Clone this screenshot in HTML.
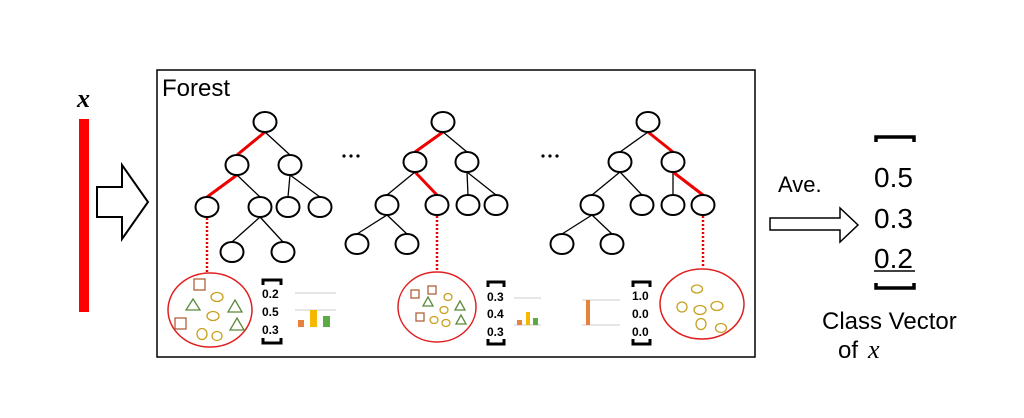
<!DOCTYPE html>
<html><head><meta charset="utf-8"><style>
html,body{margin:0;padding:0;background:#fff;}
svg{display:block;}
text{font-family:"Liberation Sans",sans-serif;}
</style></head><body>
<svg width="1024" height="418" viewBox="0 0 1024 418" xmlns="http://www.w3.org/2000/svg">
<text x="77" y="107" font-family="Liberation Serif" font-style="italic" font-weight="bold" font-size="26" style="font-family:'Liberation Serif',serif">x</text>
<rect x="79" y="119" width="10" height="193" fill="#ff0000"/>
<polygon points="97,187 122,187 122,165 148,202 122,239 122,217 97,217" fill="#fff" stroke="#000" stroke-width="2"/>
<rect x="157" y="70" width="598" height="287" fill="none" stroke="#000" stroke-width="1.5"/>
<text x="162" y="96" font-size="24">Forest</text>
<g stroke="#000" stroke-width="1.3">
<line x1="265" y1="132" x2="237" y2="155" stroke="#e00" stroke-width="3"/>
<line x1="265" y1="132" x2="290" y2="155"/>
<line x1="237" y1="175" x2="207" y2="197" stroke="#e00" stroke-width="3"/>
<line x1="237" y1="175" x2="260" y2="197"/>
<line x1="290" y1="175" x2="288" y2="197"/>
<line x1="290" y1="175" x2="320" y2="197"/>
<line x1="260" y1="217" x2="232" y2="242"/>
<line x1="260" y1="217" x2="283" y2="242"/>
<line x1="443" y1="132" x2="415" y2="152" stroke="#e00" stroke-width="3"/>
<line x1="443" y1="132" x2="467" y2="152"/>
<line x1="415" y1="172" x2="437" y2="195" stroke="#e00" stroke-width="3"/>
<line x1="415" y1="172" x2="387" y2="195"/>
<line x1="467" y1="172" x2="468" y2="195"/>
<line x1="467" y1="172" x2="496" y2="195"/>
<line x1="387" y1="215" x2="357" y2="234"/>
<line x1="387" y1="215" x2="407" y2="234"/>
<line x1="648" y1="132" x2="620" y2="152"/>
<line x1="648" y1="132" x2="673" y2="152" stroke="#e00" stroke-width="3"/>
<line x1="620" y1="172" x2="592" y2="195"/>
<line x1="620" y1="172" x2="642" y2="195"/>
<line x1="673" y1="172" x2="673" y2="195"/>
<line x1="673" y1="172" x2="703" y2="195" stroke="#e00" stroke-width="3"/>
<line x1="592" y1="215" x2="562" y2="234"/>
<line x1="592" y1="215" x2="612" y2="234"/>
</g>
<g fill="#fff" stroke="#000" stroke-width="2">
<ellipse cx="265" cy="122" rx="11.5" ry="10"/>
<ellipse cx="237" cy="165" rx="11.5" ry="10"/><ellipse cx="290" cy="165" rx="11.5" ry="10"/>
<ellipse cx="207" cy="207" rx="11.5" ry="10"/><ellipse cx="260" cy="207" rx="11.5" ry="10"/><ellipse cx="288" cy="207" rx="11.5" ry="10"/><ellipse cx="320" cy="207" rx="11.5" ry="10"/>
<ellipse cx="232" cy="252" rx="11.5" ry="10"/><ellipse cx="283" cy="252" rx="11.5" ry="10"/>
<ellipse cx="443" cy="122" rx="11.5" ry="10"/>
<ellipse cx="415" cy="162" rx="11.5" ry="10"/><ellipse cx="467" cy="162" rx="11.5" ry="10"/>
<ellipse cx="387" cy="205" rx="11.5" ry="10"/><ellipse cx="437" cy="205" rx="11.5" ry="10"/><ellipse cx="468" cy="205" rx="11.5" ry="10"/><ellipse cx="496" cy="205" rx="11.5" ry="10"/>
<ellipse cx="357" cy="244" rx="11.5" ry="10"/><ellipse cx="407" cy="244" rx="11.5" ry="10"/>
<ellipse cx="648" cy="122" rx="11.5" ry="10"/>
<ellipse cx="620" cy="162" rx="11.5" ry="10"/><ellipse cx="673" cy="162" rx="11.5" ry="10"/>
<ellipse cx="592" cy="205" rx="11.5" ry="10"/><ellipse cx="642" cy="205" rx="11.5" ry="10"/><ellipse cx="673" cy="205" rx="11.5" ry="10"/><ellipse cx="703" cy="205" rx="11.5" ry="10"/>
<ellipse cx="562" cy="244" rx="11.5" ry="10"/><ellipse cx="612" cy="244" rx="11.5" ry="10"/>
</g>
<g fill="#000"><circle cx="344" cy="156" r="1.6"/><circle cx="351" cy="156" r="1.6"/><circle cx="358" cy="156" r="1.6"/>
<circle cx="543" cy="156" r="1.6"/><circle cx="550" cy="156" r="1.6"/><circle cx="557" cy="156" r="1.6"/></g>
<g stroke="#e00" stroke-width="2.5" stroke-dasharray="2,2">
<line x1="207" y1="218" x2="207" y2="272"/>
<line x1="437" y1="216" x2="437" y2="272"/>
<line x1="703" y1="216" x2="703" y2="268"/>
</g>
<g fill="none" stroke="#e02020" stroke-width="1.5">
<ellipse cx="210" cy="310" rx="42" ry="37"/>
<ellipse cx="437" cy="307" rx="39" ry="35"/>
<ellipse cx="702" cy="304" rx="42" ry="35"/>
</g>
<g fill="none" stroke-width="1.3">
<g stroke="#b0603a"><rect x="194" y="279" width="11" height="11"/><rect x="175" y="318" width="11" height="11"/>
<rect x="411" y="290" width="8" height="8"/><rect x="428" y="286" width="8" height="8"/><rect x="416" y="313" width="8" height="8"/></g>
<g stroke="#5a8a3a"><polygon points="193,299 200,310 186,310"/><polygon points="235,300 242,312 228,312"/><polygon points="237,318 244,330 230,330"/>
<polygon points="428,297 433,306 423,306"/><polygon points="460,301 465,310 455,310"/><polygon points="461,315 466,324 456,324"/></g>
<g stroke="#c8a020"><ellipse cx="217" cy="297" rx="6" ry="4.5"/><ellipse cx="213" cy="316" rx="6" ry="4.5"/><ellipse cx="202" cy="334" rx="5" ry="5.5"/><ellipse cx="217" cy="336" rx="5" ry="4.5"/>
<ellipse cx="448" cy="297" rx="4" ry="3.5"/><ellipse cx="444" cy="310" rx="4" ry="3.5"/><ellipse cx="434" cy="320" rx="4" ry="3.5"/><ellipse cx="446" cy="323" rx="4" ry="3.5"/>
<ellipse cx="697" cy="289" rx="5.5" ry="4"/><ellipse cx="682" cy="307" rx="5" ry="5"/><ellipse cx="700" cy="310" rx="6" ry="4.5"/><ellipse cx="717" cy="306" rx="6" ry="4.5"/><ellipse cx="701" cy="324" rx="5" ry="5.5"/><ellipse cx="721" cy="328" rx="5.5" ry="4.5"/></g>
</g>
<g font-weight="bold" font-size="12" fill="#000">
<text x="262" y="298">0.2</text><text x="262" y="316">0.5</text><text x="262" y="334">0.3</text>
<text x="487" y="301">0.3</text><text x="487" y="318">0.4</text><text x="487" y="336">0.3</text>
<text x="632" y="300">1.0</text><text x="632" y="318">0.0</text><text x="632" y="336">0.0</text>
</g>
<g stroke="#000" stroke-width="3" fill="none">
<path d="M263,285 V280 H281 V285"/><path d="M263,338 V343 H281 V338"/>
<path d="M488,287 V282 H504 V287"/><path d="M488,339 V344 H504 V339"/>
<path d="M633,287 V282 H650 V287"/><path d="M633,339 V344 H650 V339"/>
</g>
<g stroke="#ccc" stroke-width="1"><line x1="295" y1="293" x2="336" y2="293"/><line x1="295" y1="310" x2="336" y2="310"/>
<line x1="514" y1="298" x2="541" y2="298"/><line x1="514" y1="325" x2="541" y2="325"/>
<line x1="582" y1="300" x2="620" y2="300"/><line x1="582" y1="325" x2="620" y2="325"/></g>
<rect x="298" y="320" width="6" height="7" fill="#e8823a"/><rect x="310" y="310" width="7" height="17" fill="#f5b800"/><rect x="323" y="316" width="7" height="11" fill="#5aaa45"/>
<rect x="517" y="320" width="5" height="5" fill="#e8823a"/><rect x="526" y="312" width="4" height="13" fill="#f5b800"/><rect x="533" y="318" width="5" height="7" fill="#5aaa45"/>
<rect x="586" y="300" width="4" height="25" fill="#e8823a"/>
<text x="778" y="192" font-size="22">Ave.</text>
<polygon points="770,218 840,218 840,208 858,225 840,242 840,230 770,230" fill="#fff" stroke="#000" stroke-width="1.5"/>
<path d="M876,142 V137 H914 V142" stroke="#000" stroke-width="3.5" fill="none"/>
<path d="M876,283 V288 H914 V283" stroke="#000" stroke-width="3.5" fill="none"/>
<g font-size="28" fill="#000"><text x="874" y="187">0.5</text><text x="874" y="228">0.3</text><text x="874" y="268">0.2</text></g>
<line x1="874" y1="271" x2="915" y2="271" stroke="#000" stroke-width="1.5"/>
<text x="822" y="329" font-size="24">Class Vector</text>
<text x="838" y="358" font-size="24">of</text>
<text x="868" y="358" font-size="26" font-style="italic" style="font-family:'Liberation Serif',serif">x</text>
</svg>
</body></html>
